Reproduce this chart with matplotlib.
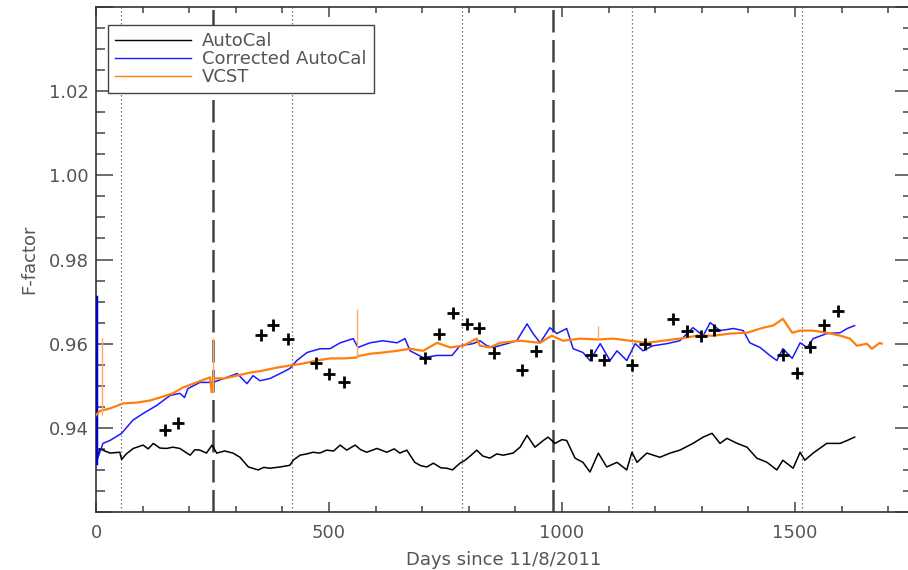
import matplotlib
matplotlib.use("Agg")
import matplotlib.pyplot as plt
from matplotlib.ticker import MultipleLocator, FixedLocator

# AutoCal (black)
auto_days = [1, 2, 8, 15, 30, 51, 55, 65, 80, 101, 112, 123, 137, 151, 165, 180, 202, 212, 223, 237,
             249, 259, 276, 294, 309, 327, 348, 360, 373, 395, 416, 423, 438, 452, 466, 480, 495, 510,
             524, 538, 556, 568, 581, 603, 624, 640, 652, 667, 684, 697, 710, 724, 740, 753, 765, 781,
             792, 805, 817, 830, 845, 860, 874, 895, 910, 925, 942, 960, 970, 985, 1000, 1010, 1028,
             1045, 1060, 1078, 1096, 1118, 1139, 1150, 1161, 1182, 1210, 1232, 1253, 1281, 1303, 1322,
             1339, 1354, 1376, 1397, 1418, 1440, 1461, 1474, 1496, 1511, 1521, 1539, 1568, 1597, 1612, 1628]
auto_vals = [0.9347, 0.9323, 0.9350, 0.9347, 0.9340, 0.9342, 0.9325, 0.9338, 0.9351, 0.9359, 0.9350,
             0.9363, 0.9352, 0.9351, 0.9354, 0.9351, 0.9335, 0.9348, 0.9347, 0.9340, 0.9359, 0.9340,
             0.9345, 0.9340, 0.9330, 0.9307, 0.9300, 0.9306, 0.9304, 0.9307, 0.9311, 0.9323, 0.9335,
             0.9338, 0.9342, 0.9340, 0.9347, 0.9345, 0.9359, 0.9347, 0.9359, 0.9348, 0.9342, 0.9351,
             0.9342, 0.9350, 0.9340, 0.9347, 0.9318, 0.9310, 0.9307, 0.9316, 0.9305, 0.9304, 0.9300,
             0.9316, 0.9323, 0.9335, 0.9347, 0.9333, 0.9328, 0.9338, 0.9335, 0.9340, 0.9354, 0.9382,
             0.9354, 0.9370, 0.9378, 0.9363, 0.9372, 0.9370, 0.9328, 0.9318, 0.9295, 0.9340, 0.9307,
             0.9318, 0.9300, 0.9342, 0.9318, 0.9340, 0.9330, 0.9340, 0.9347, 0.9363, 0.9378, 0.9387,
             0.9363, 0.9375, 0.9363, 0.9354, 0.9328, 0.9318, 0.9300, 0.9323, 0.9304, 0.9342, 0.9323,
             0.9340, 0.9363, 0.9363, 0.9370, 0.9378]

# Corrected AutoCal (blue)
corr_days = [0, 0, 2, 15, 30, 55, 79, 101, 130, 159, 180, 190, 197, 223, 251, 281, 303, 324, 337, 352,
             373, 395, 416, 431, 453, 481, 502, 524, 552, 562, 588, 616, 646, 663, 674, 702, 732, 764,
             781, 809, 824, 839, 852, 882, 903, 925, 938, 953, 974, 989, 1010, 1024, 1045, 1060, 1082,
             1103, 1118, 1139, 1157, 1174, 1195, 1225, 1253, 1281, 1303, 1318, 1339, 1368, 1389, 1403,
             1425, 1446, 1461, 1474, 1494, 1511, 1526, 1539, 1568, 1597, 1612, 1628]
corr_vals = [0.9710, 0.9316, 0.9323, 0.9363, 0.9370, 0.9387, 0.9418, 0.9434, 0.9453, 0.9477, 0.9482,
             0.9472, 0.9493, 0.9508, 0.9508, 0.9520, 0.9529, 0.9505, 0.9524, 0.9512, 0.9517, 0.9529,
             0.9541, 0.9560, 0.9579, 0.9588, 0.9588, 0.9602, 0.9612, 0.9591, 0.9602, 0.9607, 0.9602,
             0.9612, 0.9583, 0.9567, 0.9572, 0.9572, 0.9595, 0.9600, 0.9607, 0.9595, 0.9591, 0.9600,
             0.9607, 0.9647, 0.9624, 0.9602, 0.9638, 0.9624, 0.9636, 0.9588, 0.9579, 0.9560, 0.9600,
             0.9560, 0.9583, 0.9560, 0.9600, 0.9583, 0.9595, 0.9600, 0.9607, 0.9638, 0.9619, 0.9650,
             0.9631, 0.9636, 0.9631, 0.9602, 0.9591, 0.9572, 0.9560, 0.9588, 0.9565, 0.9602, 0.9591,
             0.9612, 0.9624, 0.9626, 0.9636, 0.9643]

# VCST (orange)
vcst_days = [0, 8, 30, 58, 88, 116, 137, 165, 187, 216, 245, 248, 252, 273, 302, 330, 358,
             388, 416, 445, 474, 502, 531, 559, 561, 588, 616, 646, 674, 702, 732, 760, 788, 817,
             824, 845, 867, 910, 953, 978, 1002, 1039, 1077, 1079, 1110, 1146, 1182, 1217, 1253,
             1290, 1325, 1361, 1397, 1432, 1453, 1474, 1494, 1511, 1539, 1568, 1597, 1618, 1633, 1654,
             1665, 1682, 1686]
vcst_vals = [0.9430, 0.9440, 0.9446, 0.9458, 0.9460, 0.9465, 0.9472, 0.9482, 0.9496,
             0.9508, 0.9520, 0.9485, 0.9518, 0.9517, 0.9524, 0.9531, 0.9536, 0.9543, 0.9548,
             0.9553, 0.9560, 0.9565, 0.9565, 0.9567, 0.9570, 0.9576, 0.9579, 0.9583, 0.9588,
             0.9583, 0.9602, 0.9591, 0.9595, 0.9612, 0.9595, 0.9591, 0.9602, 0.9607, 0.9602, 0.9619,
             0.9607, 0.9612, 0.9610, 0.9610, 0.9612, 0.9607, 0.9602, 0.9607, 0.9612, 0.9619,
             0.9619, 0.9624, 0.9626, 0.9638, 0.9643, 0.9659, 0.9626, 0.9631, 0.9631, 0.9626, 0.9619,
             0.9612, 0.9595, 0.9600, 0.9588, 0.9602, 0.9600]
# single-day VCST spikes: day, low, high
spike_days = [12, 250, 560, 1078]
spike_lo = [0.9430, 0.9485, 0.9567, 0.9610]
spike_hi = [0.9614, 0.9614, 0.9683, 0.9643]

# individual measurements (crosses)
pt_days = [148, 176, 354, 380, 412, 472, 500, 532, 706, 736, 766, 796, 822, 854, 914, 944, 1062, 1090,
           1150, 1178, 1238, 1268, 1298, 1326, 1474, 1504, 1532, 1562, 1592]
pt_vals = [0.9394, 0.9411, 0.9621, 0.9645, 0.9612, 0.9555, 0.9527, 0.9510, 0.9567, 0.9624, 0.9673,
           0.9647, 0.9638, 0.9579, 0.9538, 0.9583, 0.9572, 0.9562, 0.9550, 0.9600, 0.9659, 0.9631,
           0.9619, 0.9633, 0.9574, 0.9531, 0.9591, 0.9645, 0.9678]

year_days = [54, 420, 785, 1150, 1515]
event_days = [251, 981]

txt = "#555555"
plt.rcParams['font.family'] = ['DejaVu Sans']

fig = plt.figure(figsize=(9.08, 5.70), dpi=100)
ax = fig.add_axes([96 / 908, 58 / 570, 815.5 / 908, 505 / 570])

for d in year_days:
    ax.axvline(d, color="#555555", lw=0.9, ls=(0, (1, 2.2)), zorder=1)
for d in event_days:
    ax.axvline(d, color="#444444", lw=1.8, ls=(0, (9, 3)), zorder=1)

ax.plot(auto_days, auto_vals, color="black", lw=1.1, label="AutoCal", zorder=3)
ax.plot(corr_days, corr_vals, color="#1a1aff", lw=1.1, label="Corrected AutoCal", zorder=3)
ax.plot(corr_days[:2], corr_vals[:2], color="#0000c8", lw=2.5, zorder=3)
ax.plot(vcst_days, vcst_vals, color="#ff7f0e", lw=1.6, label="VCST", zorder=4)
ax.vlines(spike_days, spike_lo, spike_hi, color="#ffaa60", lw=1.0, zorder=4)
ax.plot(pt_days, pt_vals, ls="none", marker="+", ms=8, mew=2, color="black", zorder=5)

ax.set_xlim(0, 1750)
ax.set_ylim(0.92, 1.04)
ax.xaxis.set_major_locator(MultipleLocator(500))
ax.xaxis.set_minor_locator(MultipleLocator(100))
ax.yaxis.set_major_locator(FixedLocator([0.92, 0.94, 0.96, 0.98, 1.00, 1.02, 1.04]))
ax.yaxis.set_minor_locator(MultipleLocator(0.005))
ax.set_yticklabels(["", "0.94", "0.96", "0.98", "1.00", "1.02", ""])

ax.tick_params(axis="both", which="both", direction="in", top=True, right=True,
               colors="#444444", labelcolor=txt, labelsize=13, width=1.1)
ax.tick_params(axis="x", which="major", length=7, pad=9)
ax.tick_params(axis="x", which="minor", length=4)
ax.tick_params(axis="y", which="major", length=12, pad=5)
ax.tick_params(axis="y", which="minor", length=6.5)
for s in ax.spines.values():
    s.set_color("#333333")
    s.set_linewidth(1.2)

ax.set_xlabel("Days since 11/8/2011", fontsize=13, color=txt, labelpad=6)
ax.set_ylabel("F-factor", fontsize=13, color=txt, labelpad=8)

leg = ax.legend(loc="upper left", bbox_to_anchor=(12 / 815.5, 1 - 18 / 505), borderaxespad=0,
                fancybox=False, edgecolor="#444444", fontsize=13, handlelength=4.2,
                handletextpad=0.6, labelspacing=0.0, borderpad=0.4, framealpha=1)
leg.get_frame().set_linewidth(1.0)
for t in leg.get_texts():
    t.set_color(txt)
for h in leg.get_lines():
    h.set_linewidth(1.0)

fig.savefig("out.png", dpi=100)
